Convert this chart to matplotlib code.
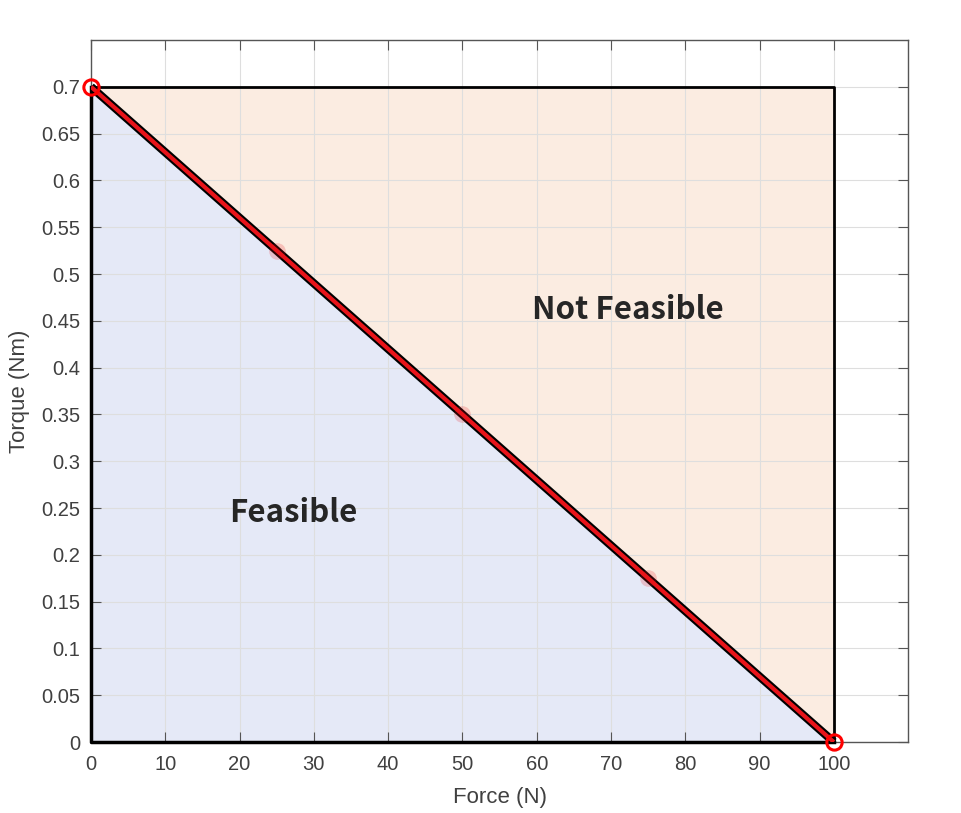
import numpy as np
import matplotlib.pyplot as plt

# limit line data
force = [0, 25, 50, 75, 100]
torque = [0.7, 0.525, 0.35, 0.175, 0]
f_max = 100
t_max = 0.7

plt.rcParams['font.family'] = ['Liberation Sans', 'DejaVu Sans']

fig = plt.figure(figsize=(9.62, 8.13), dpi=100)
ax = fig.add_axes([0.0946, 0.0873, 0.944 - 0.0946, 0.9508 - 0.0873])

# regions (grid drawn on top of them, like the original)
ax.fill([0, 0, f_max], [0, t_max, 0], color='#e5e9f7', zorder=0.3)
ax.fill([0, f_max, f_max], [t_max, t_max, 0], color='#fbece1', zorder=0.3)
ax.plot([0, f_max, f_max], [t_max, t_max, 0], color='black', lw=2, zorder=3)
ax.plot([0, 0, f_max], [t_max, 0, 0], color='black', lw=2.5, zorder=3, clip_on=False)

# limit line
ax.plot(force, torque, color='black', lw=6, solid_capstyle='butt', zorder=4)
ax.plot(force, torque, color='#e8141a', lw=3, solid_capstyle='butt', zorder=5)
ax.plot(force[1:-1], torque[1:-1], 'o', color='#e8141a', ms=12, mew=0, alpha=0.2, zorder=6)
ax.plot([force[0], force[-1]], [torque[0], torque[-1]], 'o', mfc='none', mec='#ff0000',
        ms=11, mew=2.2, zorder=7, clip_on=False)

ax.text(72.3, 0.462, 'Not Feasible', fontsize=22.5, fontweight='bold', color='#262626',
        ha='center', va='center', family=['Noto Sans CJK KR', 'DejaVu Sans'], zorder=8)
ax.text(27.3, 0.245, 'Feasible', fontsize=22.5, fontweight='bold', color='#262626',
        ha='center', va='center', family=['Noto Sans CJK KR', 'DejaVu Sans'], zorder=8)

ax.set_xlim(0, 110)
ax.set_ylim(0, 0.75)
ax.set_xticks(np.arange(0, 101, 10))
yt = np.round(np.arange(0, 0.701, 0.05), 2)
ax.set_yticks(yt)
ax.set_yticklabels(['%g' % v for v in yt])
ax.set_xticks([110], minor=True)
ax.set_yticks([0.75], minor=True)
ax.grid(True, which='both', color='#dedede', lw=0.8, zorder=0.5)
ax.set_axisbelow(True)
ax.tick_params(which='both', direction='in', top=True, right=True, length=7,
               labelsize=14.5, colors='#555555', labelcolor='#404040')
ax.tick_params(axis='x', pad=9)
ax.tick_params(axis='y', pad=8)
for s in ax.spines.values():
    s.set_color('#555555')
    s.set_linewidth(1.0)

ax.set_xlabel('Force (N)', fontsize=16, color='#404040', labelpad=10)
ax.set_ylabel('Torque (Nm)', fontsize=16, color='#404040', labelpad=8)

fig.savefig('out.png', dpi=100)
